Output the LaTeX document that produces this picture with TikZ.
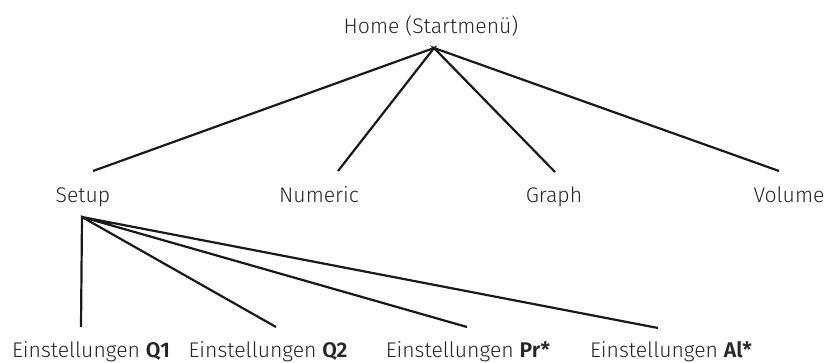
\documentclass[tikz,border=0pt]{standalone}
\usepackage{fontspec}
\setmainfont{Fira Sans Light}[BoldFont={Fira Sans SemiBold}]
\begin{document}
\begin{tikzpicture}[x=1pt,y=-1pt,
  lbl/.style={anchor=base,inner sep=0pt,text=black!85,font=\fontsize{21.2}{24}\selectfont},
  branch/.style={draw=black!90,line width=2.2pt}]
\useasboundingbox (0,0) rectangle (824,363);

% menu entries
\node[lbl] (home)    at (431,34)  {Home (Startmenü)};
\node[lbl] (setup)   at (83,203)  {Setup};
\node[lbl] (numeric) at (319,203) {Numeric};
\node[lbl] (graph)   at (554,203) {Graph};
\node[lbl] (volume)  at (789,203) {Volume};
\node[lbl] (q1) at (91,357)  {Einstellungen \textbf{Q1}};
\node[lbl] (q2) at (268,357) {Einstellungen \textbf{Q2}};
\node[lbl] (pr) at (468,357) {Einstellungen \textbf{Pr*}};
\node[lbl] (al) at (671,357) {Einstellungen \textbf{Al*}};

% junction points and line ends
\coordinate (hub)  at (434,48);
\coordinate (sub)  at (82,217);
\coordinate (eSetup)   at (93,171);
\coordinate (eNumeric) at (338,171);
\coordinate (eGraph)   at (555,172);
\coordinate (eVolume)  at (779,171);
\coordinate (eQ1) at (81,327);
\coordinate (eQ2) at (276,327);
\coordinate (ePr) at (467,327);
\coordinate (eAl) at (658,328);

% top level branches
\draw[branch] (eSetup) -- (hub) -- (eNumeric);
\draw[branch] (eGraph) -- (hub) -- (eVolume);

% setup sub-branches
\draw[branch] (eQ1) -- (sub) -- (eQ2);
\draw[branch] (ePr) -- (sub) -- (eAl);
\end{tikzpicture}
\end{document}
